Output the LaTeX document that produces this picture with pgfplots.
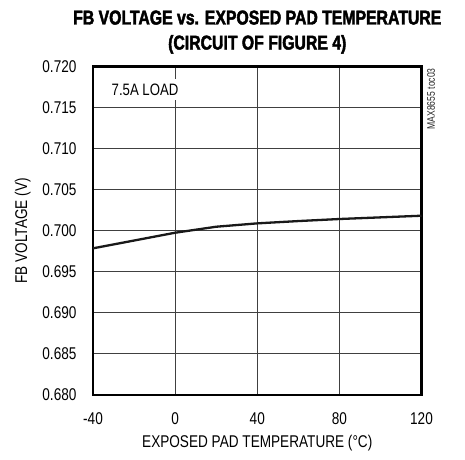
\documentclass[border=0pt]{standalone}
\usepackage{fontspec}
\usepackage{pgfplots}
\pgfplotsset{compat=1.18}
\setmainfont{Liberation Sans}[FakeStretch=0.8]
\newfontfamily\titlefont{Liberation Sans}[FakeStretch=0.79, FakeBold=2.2]
\newfontfamily\smallfont{Liberation Sans}[FakeStretch=0.78]
\begin{document}
\begin{tikzpicture}
\useasboundingbox (0,0) rectangle (465pt,459pt);
\begin{axis}[
  at={(93pt,64pt)}, anchor=south west,
  scale only axis, width=328.5pt, height=328.5pt,
  xmin=-40, xmax=120, ymin=0.680, ymax=0.720,
  xtick={-40,0,40,80,120},
  ytick={0.680,0.685,0.690,0.695,0.700,0.705,0.710,0.715,0.720},
  grid=major,
  grid style={line width=0.9pt, color=black!75},
  axis line style={line width=2.3pt, black},
  major tick length=0pt,
  tick style={draw=none},
  /pgf/number format/assume math mode=true,
  ticklabel style={font=\fontsize{17}{20}\selectfont},
  yticklabel style={/pgf/number format/fixed, /pgf/number format/fixed zerofill, /pgf/number format/precision=3},
  yticklabel style={anchor=east, xshift=-13pt},
  xticklabel style={anchor=base, yshift=-29.5pt},
  scaled y ticks=false,
  xlabel={EXPOSED PAD TEMPERATURE (°C)},
  xlabel style={font=\fontsize{17}{20}\selectfont, at={(axis description cs:0.5,-0.1613)}, anchor=base},
  ylabel={FB VOLTAGE (V)},
  ylabel style={font=\fontsize{17}{20}\selectfont, at={(axis description cs:-0.2009,0.5)}, anchor=base},
  clip mode=individual,
]
\addplot[line width=2.3pt, color=black!90] coordinates {
  (-40,0.69786) (-20,0.69881) (0,0.69976) (20,0.70049) (40,0.70090)
  (60,0.70118) (80,0.70143) (100,0.70163) (120,0.70183)
};
\node[font=\fontsize{16.5}{20}\selectfont, anchor=base west, fill=white, inner sep=5pt]
  at (axis description cs:0.041,0.913) {7.5A LOAD};
\node[font=\smallfont\fontsize{11}{13}\selectfont, anchor=east, rotate=90, inner sep=0pt, text=black!85]
  at (axis description cs:1.029,0.995) {MAX8655 toc03};
\node[font=\titlefont\bfseries\fontsize{20}{24}\selectfont, anchor=base]
  at (axis description cs:0.5,1.1279) {FB VOLTAGE vs. EXPOSED PAD TEMPERATURE};
\node[font=\titlefont\bfseries\fontsize{20}{24}\selectfont, anchor=base]
  at (axis description cs:0.5,1.0517) {(CIRCUIT OF FIGURE 4)};
\end{axis}
\end{tikzpicture}
\end{document}
